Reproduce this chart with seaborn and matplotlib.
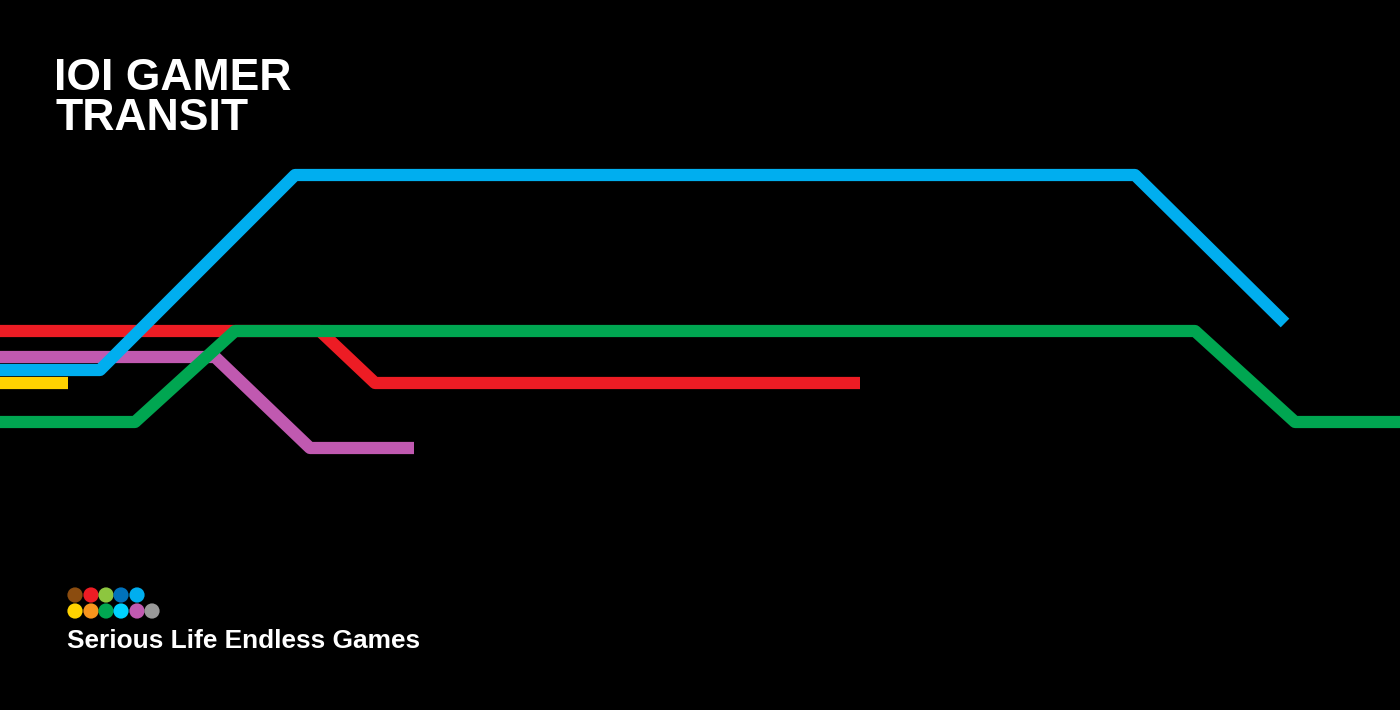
import matplotlib
matplotlib.use("Agg")
import matplotlib.pyplot as plt
import seaborn as sns
import pandas as pd

sns.set_theme(style="white")
plt.rcParams['font.family'] = ['Liberation Sans', 'DejaVu Sans']

red_x = [0, 320, 375, 860];            red_y = [331, 331, 383, 383]
purple_x = [0, 215, 310, 414];         purple_y = [357, 357, 448, 448]
yellow_x = [0, 68];                    yellow_y = [383, 383]
blue_x = [0, 100, 295, 1135, 1285];    blue_y = [370, 370, 175, 175, 323]
green_x = [0, 135, 235, 1195, 1295, 1400]; green_y = [422, 422, 331, 331, 422, 422]

lines = [("red", red_x, red_y, "#ED1C24"),
         ("purple", purple_x, purple_y, "#C059B0"),
         ("yellow", yellow_x, yellow_y, "#FFD200"),
         ("blue", blue_x, blue_y, "#00AEEF"),
         ("green", green_x, green_y, "#00A651")]

dot_x = [75, 91, 106, 121, 137, 75, 91, 106, 121, 137, 152]
dot_y = [595, 595, 595, 595, 595, 611, 611, 611, 611, 611, 611]
dot_c = ["#8B4C0F", "#ED1C24", "#8DC63F", "#0072BC", "#00AEEF",
         "#FFD200", "#F7941D", "#00A651", "#00D2FF", "#C059B0", "#999999"]

fig = plt.figure(figsize=(14, 7.1), dpi=100, facecolor="black")
ax = fig.add_axes([0, 0, 1, 1])
ax.set_facecolor("black")
for name, xs, ys, c in lines:
    df = pd.DataFrame({"x": xs, "y": ys})
    sns.lineplot(data=df, x="x", y="y", sort=False, color=c, lw=8.8, ax=ax,
                 solid_joinstyle="round", solid_capstyle="butt")
ddf = pd.DataFrame({"x": dot_x, "y": dot_y, "c": dot_c})
ax.scatter(ddf.x, ddf.y, s=120, c=ddf.c, linewidths=0, zorder=5)

ax.text(54, 90, "IOI GAMER", color="white", fontsize=32, fontweight="bold", va="baseline")
ax.text(56, 130, "TRANSIT", color="white", fontsize=32, fontweight="bold", va="baseline")
ax.text(67, 648, "Serious Life Endless Games", color="white", fontsize=18.9,
        fontweight="bold", va="baseline")

ax.set_xlim(0, 1400); ax.set_ylim(710, 0)
ax.axis("off")
fig.savefig("out.png", dpi=100, facecolor="black")
